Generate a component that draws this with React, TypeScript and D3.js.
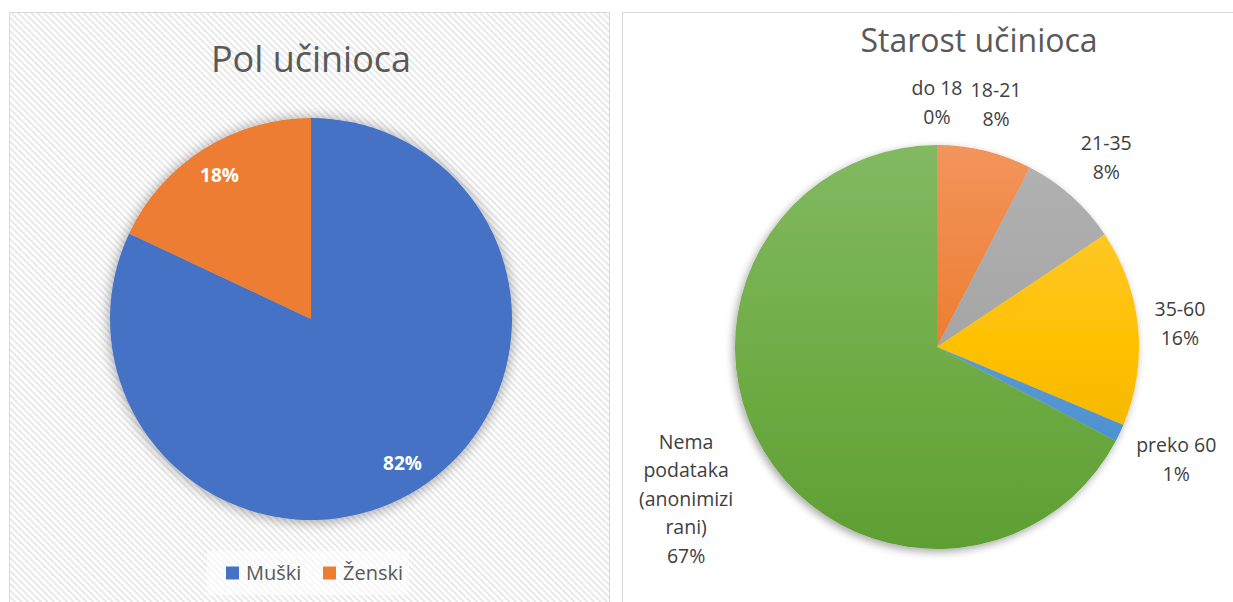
import React from "react";
import * as d3 from "d3";

// ---------- data ----------
const genderCategories = ["Muški", "Ženski"];
const genderValues = [82, 18];
const genderColors = ["#4472C4", "#ED7D31"];

const ageCategories = ["do 18", "18-21", "21-35", "35-60", "preko 60", "Nema podataka (anonimizirani)"];
const ageLabelLines = [["do 18"], ["18-21"], ["21-35"], ["35-60"], ["preko 60"], ["Nema", "podataka", "(anonimizi", "rani)"]];
const ageValues = [0, 7.6, 8.0, 15.7, 1.4, 67.3];
// light (top) / base / dark (bottom) colour per slice
const ageColorsTop = ["#6A9FD8", "#F2955C", "#B2B2B2", "#FFCD44", "#62A0D8", "#82B962"];
const ageColorsBase = ["#5B9BD5", "#ED7D31", "#A5A5A5", "#FFC000", "#5B9BD5", "#70AD47"];
const ageColorsBottom = ["#4A88C6", "#DA6A1E", "#959595", "#E8AD00", "#3F86C8", "#5E9F33"];

const leftTitle = "Pol učinioca";
const rightTitle = "Starost učinioca";

const W = 1233;
const H = 602;
const FONT = "'Open Sans', 'Noto Sans', sans-serif";
const LABEL_SIZE = 19.5;

let measureCtx: CanvasRenderingContext2D | null = null;
function textWidth(t: string): number {
  if (!measureCtx) {
    const c = document.createElement("canvas");
    measureCtx = c.getContext("2d");
  }
  if (!measureCtx) return t.length * LABEL_SIZE * 0.55;
  measureCtx.font = `${LABEL_SIZE}px 'Open Sans'`;
  return measureCtx.measureText(t).width;
}

export default function App() {
  const pct = d3.format(".0%");

  // left pie
  const L = { cx: 311, cy: 319, r: 201 };
  const gTotal = d3.sum(genderValues);
  const gPie = d3.pie<number>().sort(null).value((d) => d)(genderValues);
  const gArc = d3.arc<d3.PieArcDatum<number>>().innerRadius(0).outerRadius(L.r);
  const gLabelArc = d3.arc<d3.PieArcDatum<number>>().innerRadius(L.r * 0.85).outerRadius(L.r * 0.85);

  // right pie
  const Rt = { cx: 937, cy: 347, r: 202 };
  const aTotal = d3.sum(ageValues);
  const aPie = d3.pie<number>().sort(null).value((d) => d)(ageValues);
  const aArc = d3.arc<d3.PieArcDatum<number>>().innerRadius(0).outerRadius(Rt.r);
  const lineH = 28.5;
  const gap = 14;

  return (
    <svg
      width={W}
      height={H}
      style={{ position: "fixed", left: 0, top: 0, background: "#ffffff" }}
      fontFamily={FONT}
    >
      <defs>
        <pattern id="hatch" width="4.6" height="4.6" patternUnits="userSpaceOnUse" patternTransform="rotate(45)">
          <rect width="4.6" height="4.6" fill="#ffffff" />
          <rect width="4.6" height="1.9" fill="#e8e8e8" />
        </pattern>
        <filter id="shadowL" x="-20%" y="-20%" width="140%" height="140%">
          <feGaussianBlur in="SourceAlpha" stdDeviation="7" />
          <feOffset dx="0" dy="1" result="b" />
          <feComponentTransfer>
            <feFuncA type="linear" slope="0.4" />
          </feComponentTransfer>
          <feMerge>
            <feMergeNode />
            <feMergeNode in="SourceGraphic" />
          </feMerge>
        </filter>
        <filter id="shadowR" x="-20%" y="-20%" width="140%" height="140%">
          <feGaussianBlur in="SourceAlpha" stdDeviation="4" />
          <feOffset dx="-2" dy="3" result="b" />
          <feComponentTransfer>
            <feFuncA type="linear" slope="0.35" />
          </feComponentTransfer>
          <feMerge>
            <feMergeNode />
            <feMergeNode in="SourceGraphic" />
          </feMerge>
        </filter>
        {ageCategories.map((c, i) => (
          <linearGradient key={c} id={`ag${i}`} gradientUnits="userSpaceOnUse" x1={0} y1={-Rt.r} x2={0} y2={Rt.r}>
            <stop offset="0" stopColor={ageColorsTop[i]} />
            <stop offset="0.5" stopColor={ageColorsBase[i]} />
            <stop offset="1" stopColor={ageColorsBottom[i]} />
          </linearGradient>
        ))}
      </defs>

      {/* left panel */}
      <rect x={9.5} y={12.5} width={600} height={600} fill="url(#hatch)" stroke="#d9d9d9" strokeWidth={1} />
      <text x={L.cx} y={72} textAnchor="middle" fontSize={36} fill="#595959">
        {leftTitle}
      </text>
      <g transform={`translate(${L.cx},${L.cy})`} filter="url(#shadowL)">
        {gPie.map((d, i) => (
          <path key={genderCategories[i]} d={gArc(d) || ""} fill={genderColors[i]} />
        ))}
      </g>
      <g transform={`translate(${L.cx},${L.cy})`}>
        {gPie.map((d, i) => {
          const [x, y] = gLabelArc.centroid(d);
          return (
            <text
              key={genderCategories[i]}
              x={x}
              y={y}
              dy="0.36em"
              textAnchor="middle"
              fontSize={19}
              fontWeight="bold"
              fill="#ffffff"
            >
              {pct(d.value / gTotal)}
            </text>
          );
        })}
      </g>
      {/* legend */}
      <rect x={207} y={551} width={202} height={44} fill="#ffffff" fillOpacity={0.6} />
      {genderCategories.map((c, i) => {
        const x0 = 226 + i * 97;
        return (
          <g key={c}>
            <rect x={x0} y={566.5} width={13} height={13} fill={genderColors[i]} />
            <text x={x0 + 20} y={580} fontSize={20} fill="#595959">
              {c}
            </text>
          </g>
        );
      })}

      {/* right panel */}
      <rect x={622.5} y={12.5} width={620} height={600} fill="#ffffff" stroke="#d9d9d9" strokeWidth={1} />
      <text x={979} y={52} textAnchor="middle" fontSize={32} fill="#595959">
        {rightTitle}
      </text>
      <g transform={`translate(${Rt.cx},${Rt.cy})`} filter="url(#shadowR)">
        {aPie.map((d, i) => (
          <path key={ageCategories[i]} d={aArc(d) || ""} fill={`url(#ag${i})`} />
        ))}
      </g>
      <g transform={`translate(${Rt.cx},${Rt.cy})`}>
        {aPie.map((d, i) => {
          const lines = [...ageLabelLines[i], pct(d.value / aTotal)];
          const mid = (d.startAngle + d.endAngle) / 2;
          const w = Math.max(...lines.map(textWidth));
          const h = lines.length * lineH;
          const half = Math.abs(Math.sin(mid)) * (w / 2) + Math.abs(Math.cos(mid)) * (h / 2);
          const lr = Rt.r + gap + half;
          const x = lr * Math.sin(mid);
          const y = -lr * Math.cos(mid);
          const top = y - ((lines.length - 1) * lineH) / 2;
          return (
            <text key={ageCategories[i]} textAnchor="middle" fontSize={LABEL_SIZE} fill="#404040">
              {lines.map((t, k) => (
                <tspan key={k} x={x} y={top + k * lineH} dy="0.36em">
                  {t}
                </tspan>
              ))}
            </text>
          );
        })}
      </g>
    </svg>
  );
}
